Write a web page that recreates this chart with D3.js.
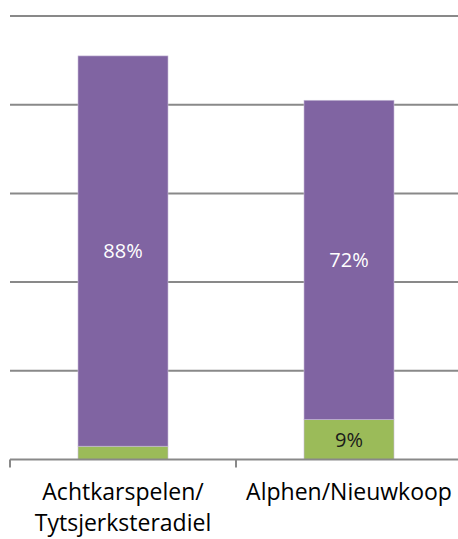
<!DOCTYPE html>
<html>
<head>
<meta charset="utf-8">
<script src="https://cdn.jsdelivr.net/npm/d3@7"></script>
<style>
  body { margin: 0; background: #fff; }
  text { font-family: "Open Sans", sans-serif; }
</style>
</head>
<body>
<div id="chart"></div>
<script>
// gestapelde kolommen, percentages per gemeente
var categories = [["Achtkarspelen/", "Tytsjerksteradiel"], ["Alphen/Nieuwkoop"]];
var series_names = ["groen", "paars"];
var green_values = [3, 9];
var purple_values = [88, 72];
var green_labels = ["", "9%"];
var purple_labels = ["88%", "72%"];
var y_ticks = [0, 20, 40, 60, 80, 100];

var margin = { top: 16, right: -4, bottom: 79.5, left: 10 },
    width = 458 - margin.left - margin.right,
    height = 539 - margin.top - margin.bottom;

var svg = d3.select("#chart")
    .append("svg")
    .attr("width", 458)
    .attr("height", 539)
    .append("g").attr("transform", "translate(" + margin.left + "," + margin.top + ")");

var x = d3.scaleBand()
    .domain(d3.range(categories.length))
    .range([0, width])
    .paddingInner(0)
    .paddingOuter(0);

var y = d3.scaleLinear()
    .domain([0, 100])
    .range([height, 0]);

var z = d3.scaleOrdinal()
    .domain(series_names)
    .range(["#9BBB59", "#8064A2"]);

// rasterlijnen
svg.append("g")
    .selectAll("line")
    .data(y_ticks.slice(1))
    .enter().append("line")
    .attr("x1", 0)
    .attr("x2", width)
    .attr("y1", function (d) { return y(d); })
    .attr("y2", function (d) { return y(d); })
    .style("stroke", "#898989")
    .style("stroke-width", 2);

var rows = categories.map(function (c, i) {
    return { i: i, groen: green_values[i], paars: purple_values[i] };
});
var stack = d3.stack().keys(series_names)(rows);

var barW = 90;
var layers = svg.append("g")
    .selectAll("g")
    .data(stack)
    .enter().append("g")
    .style("fill", function (d) { return z(d.key); });

layers.selectAll("rect")
    .data(function (d) { return d; })
    .enter().append("rect")
    .attr("x", function (d) { return x(d.data.i) + x.bandwidth() / 2 - barW / 2; })
    .attr("y", function (d) { return y(d[1]); })
    .attr("width", barW)
    .attr("height", function (d) { return y(d[0]) - y(d[1]); })
    .style("stroke", "#c9bdd9")
    .style("stroke-width", 0.6);

// labels in de balken
layers.selectAll("text")
    .data(function (d) { return d.map(function (p) { p.key = d.key; return p; }); })
    .enter().append("text")
    .attr("x", function (d) { return x(d.data.i) + x.bandwidth() / 2; })
    .attr("y", function (d) { return (y(d[0]) + y(d[1])) / 2; })
    .attr("dy", "0.36em")
    .attr("font-size", "20px")
    .style("text-anchor", "middle")
    .style("fill", function (d) { return d.key === "paars" ? "#ffffff" : "#1a1a1a"; })
    .text(function (d) {
        return d.key === "paars" ? purple_labels[d.data.i] : green_labels[d.data.i];
    });

// x-as
var axis = svg.append("g").attr("transform", "translate(0," + height + ")");
axis.append("line")
    .attr("x1", 0).attr("x2", width)
    .style("stroke", "#898989").style("stroke-width", 2);
axis.selectAll("line.tick")
    .data(d3.range(categories.length + 1))
    .enter().append("line")
    .attr("class", "tick")
    .attr("x1", function (d) { return d * x.bandwidth(); })
    .attr("x2", function (d) { return d * x.bandwidth(); })
    .attr("y1", 0).attr("y2", 8)
    .style("stroke", "#898989").style("stroke-width", 2);

axis.selectAll("text")
    .data(categories)
    .enter().append("text")
    .attr("x", function (d, i) { return x(i) + x.bandwidth() / 2; })
    .attr("y", 40)
    .attr("font-size", "23px")
    .style("text-anchor", "middle")
    .style("fill", "#000")
    .each(function (d) {
        var t = d3.select(this);
        d.forEach(function (line, k) {
            t.append("tspan")
                .attr("x", t.attr("x"))
                .attr("dy", k === 0 ? 0 : 31)
                .text(line);
        });
    });
</script>
</body>
</html>
